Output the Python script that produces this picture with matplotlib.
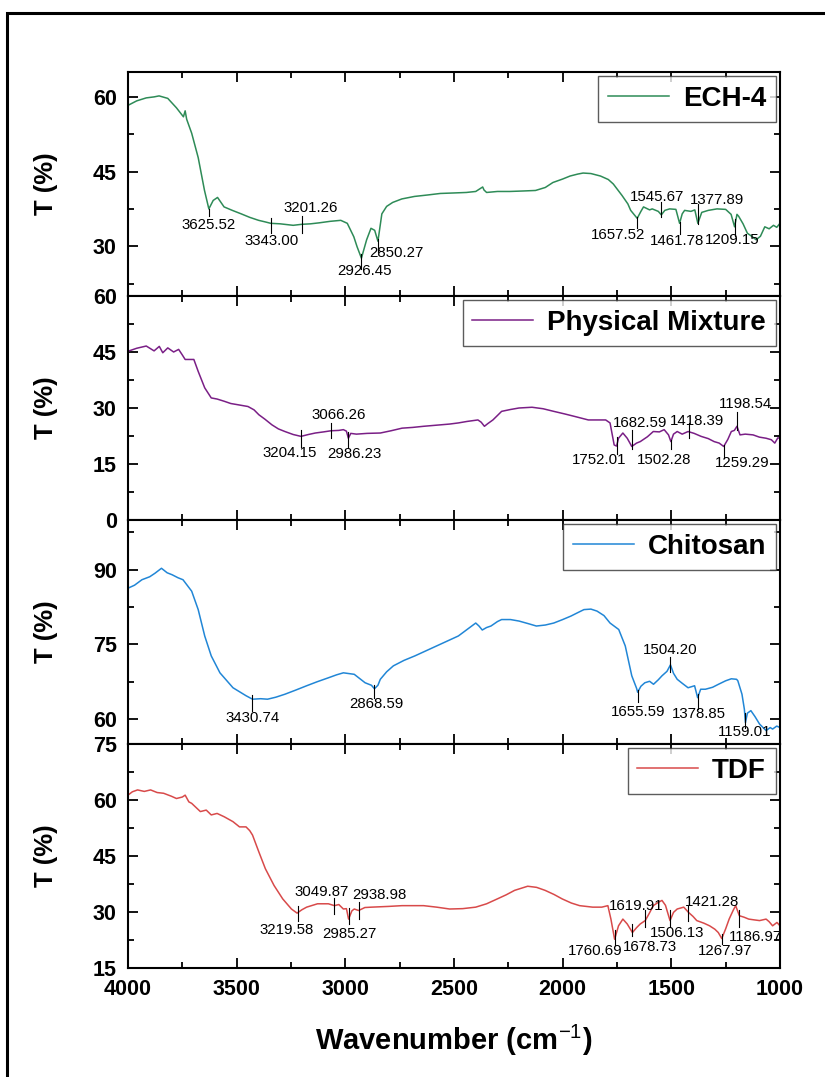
import matplotlib
matplotlib.use("Agg")
import matplotlib.pyplot as plt
from matplotlib.ticker import MultipleLocator, AutoMinorLocator
from matplotlib.patches import Rectangle

plt.rcParams["mathtext.fontset"] = "custom"
plt.rcParams["mathtext.rm"] = "Liberation Sans"
plt.rcParams["mathtext.bf"] = "Liberation Sans:bold"
plt.rcParams["mathtext.it"] = "Liberation Sans:italic"

# ---------------- data ----------------
ech_wn = [4000, 3960, 3916, 3880, 3857, 3817, 3777, 3745, 3737, 3730, 3707, 3677, 3648, 3628, 3608,
          3588, 3558, 3520, 3479, 3440, 3399, 3370, 3343, 3300, 3240, 3201, 3160, 3120, 3070, 3021,
          2991, 2961, 2946, 2926, 2902, 2882, 2865, 2850, 2832, 2810, 2782, 2740, 2682, 2620, 2563,
          2500, 2443, 2400, 2368, 2362, 2350, 2300, 2244, 2180, 2125, 2080, 2045, 2000, 1966, 1930,
          1906, 1870, 1826, 1790, 1767, 1727, 1700, 1687, 1657, 1640, 1628, 1600, 1588, 1560, 1546,
          1530, 1508, 1479, 1462, 1450, 1439, 1410, 1392, 1378, 1360, 1330, 1290, 1250, 1225, 1209,
          1198, 1190, 1170, 1150, 1130, 1110, 1090, 1070, 1050, 1030, 1015, 1000]
ech_t = [58.3, 59.2, 59.8, 60.0, 60.2, 59.7, 57.8, 56.0, 57.2, 55.5, 52.7, 47.8, 41.2, 37.5, 39.2,
         39.8, 37.9, 37.2, 36.5, 35.8, 35.2, 34.9, 34.6, 34.5, 34.2, 34.4, 34.5, 34.7, 35.0, 35.2,
         34.6, 31.9, 29.9, 27.6, 31.3, 33.6, 33.2, 31.0, 36.5, 38.0, 38.8, 39.5, 40.0, 40.3, 40.6,
         40.7, 40.8, 41.0, 41.9, 41.3, 40.8, 41.0, 41.0, 41.1, 41.2, 41.8, 42.8, 43.5, 44.1, 44.5,
         44.7, 44.6, 44.1, 43.4, 42.5, 40.2, 38.5, 37.2, 35.6, 37.0, 37.9, 37.3, 37.5, 37.0, 36.3,
         37.2, 37.5, 37.4, 34.6, 36.5, 37.2, 37.0, 37.3, 34.6, 36.8, 37.2, 37.5, 37.4, 36.4, 33.9,
         36.4, 36.0, 34.5, 32.6, 32.0, 31.3, 32.0, 33.9, 33.5, 34.2, 33.8, 34.6]

pm_wn = [4000, 3960, 3916, 3880, 3856, 3840, 3817, 3790, 3767, 3750, 3737, 3697, 3677, 3647, 3617,
         3590, 3557, 3527, 3497, 3448, 3420, 3398, 3370, 3338, 3308, 3278, 3240, 3204, 3170, 3138,
         3100, 3066, 3030, 3009, 2995, 2986, 2975, 2949, 2900, 2839, 2790, 2739, 2690, 2640, 2580,
         2520, 2480, 2440, 2390, 2375, 2360, 2345, 2321, 2300, 2281, 2240, 2201, 2141, 2090, 2041,
         1990, 1942, 1882, 1840, 1802, 1782, 1763, 1752, 1743, 1723, 1703, 1682, 1660, 1643, 1610,
         1583, 1555, 1533, 1513, 1502, 1490, 1473, 1450, 1423, 1395, 1363, 1330, 1303, 1280, 1259,
         1240, 1224, 1210, 1198, 1184, 1160, 1124, 1095, 1064, 1040, 1024, 1010, 1000]
pm_t = [45.2, 46.0, 46.6, 45.3, 46.5, 44.8, 46.1, 45.0, 45.7, 44.2, 43.0, 43.0, 39.8, 35.4, 32.7,
        32.4, 31.8, 31.2, 30.9, 30.4, 29.5, 28.2, 27.0, 25.5, 24.4, 23.7, 22.9, 22.4, 22.9, 23.3,
        23.6, 23.9, 24.0, 24.2, 23.8, 21.9, 23.2, 23.0, 23.2, 23.3, 23.9, 24.6, 24.8, 25.1, 25.4,
        25.7, 26.0, 26.4, 26.8, 26.2, 25.1, 25.8, 26.8, 28.0, 29.1, 29.6, 30.0, 30.2, 29.8, 29.1,
        28.4, 27.7, 26.8, 26.8, 26.8, 26.0, 20.1, 19.8, 21.9, 23.3, 21.9, 19.7, 20.6, 21.0, 22.3,
        23.7, 23.6, 24.2, 22.8, 21.0, 23.0, 23.7, 23.0, 23.7, 23.2, 22.4, 21.8, 21.0, 20.6, 19.7,
        21.6, 23.7, 24.0, 25.1, 22.8, 23.0, 22.8, 22.2, 21.9, 21.5, 20.6, 22.0, 21.9]

chi_wn = [4000, 3970, 3936, 3900, 3876, 3846, 3820, 3797, 3770, 3747, 3707, 3677, 3647, 3617, 3577,
          3517, 3457, 3427, 3390, 3358, 3320, 3278, 3230, 3178, 3130, 3078, 3040, 3009, 2959, 2909,
          2880, 2866, 2850, 2839, 2810, 2779, 2730, 2680, 2630, 2580, 2530, 2480, 2440, 2400, 2385,
          2370, 2350, 2330, 2300, 2281, 2240, 2201, 2160, 2121, 2080, 2041, 2000, 1962, 1930, 1902,
          1870, 1842, 1810, 1782, 1742, 1712, 1682, 1660, 1655, 1640, 1622, 1600, 1582, 1560, 1543,
          1520, 1504, 1490, 1473, 1450, 1423, 1393, 1379, 1365, 1343, 1310, 1283, 1250, 1224, 1200,
          1194, 1175, 1164, 1159, 1150, 1134, 1115, 1094, 1064, 1045, 1034, 1015, 1000]
chi_t = [86.3, 86.9, 88.0, 88.6, 89.3, 90.3, 89.4, 89.0, 88.4, 88.0, 85.7, 82.0, 76.7, 72.7, 69.3,
         66.3, 64.7, 64.0, 64.1, 64.0, 64.4, 65.0, 65.8, 66.7, 67.5, 68.3, 68.9, 69.3, 69.0, 67.3,
         66.8, 66.1, 66.8, 68.0, 69.5, 70.7, 71.8, 72.7, 73.7, 74.7, 75.7, 76.7, 78.0, 79.3, 78.7,
         77.9, 78.4, 78.7, 79.6, 80.0, 80.0, 79.7, 79.2, 78.7, 78.9, 79.3, 80.0, 80.7, 81.4, 82.0,
         82.1, 81.7, 80.8, 79.3, 78.0, 74.7, 68.7, 66.2, 65.4, 66.6, 67.3, 67.6, 67.0, 67.9, 68.7,
         69.6, 70.9, 69.2, 68.0, 67.2, 66.3, 66.7, 64.3, 66.0, 66.0, 66.4, 67.0, 67.7, 68.1, 68.0,
         67.7, 65.0, 62.0, 59.3, 61.2, 61.7, 60.5, 59.0, 57.7, 58.3, 58.0, 58.6, 58.3]

tdf_wn = [4000, 3980, 3956, 3925, 3896, 3866, 3836, 3800, 3777, 3750, 3737, 3720, 3707, 3667, 3640,
          3617, 3590, 3557, 3517, 3487, 3457, 3440, 3427, 3398, 3368, 3328, 3288, 3248, 3222, 3200,
          3178, 3128, 3078, 3050, 3030, 3009, 2995, 2985, 2970, 2959, 2939, 2910, 2879, 2800, 2739,
          2690, 2640, 2580, 2520, 2460, 2400, 2350, 2301, 2260, 2221, 2161, 2120, 2081, 2040, 2002,
          1960, 1922, 1862, 1820, 1792, 1778, 1761, 1743, 1723, 1703, 1679, 1660, 1643, 1620, 1600,
          1583, 1560, 1543, 1527, 1506, 1490, 1473, 1443, 1421, 1400, 1383, 1350, 1324, 1300, 1284,
          1268, 1250, 1234, 1215, 1204, 1187, 1165, 1144, 1120, 1094, 1064, 1050, 1034, 1014, 1000]
tdf_t = [61.3, 62.2, 62.7, 62.3, 62.7, 62.0, 61.8, 61.0, 60.4, 60.8, 61.3, 59.5, 59.1, 56.9, 57.3,
         56.0, 56.4, 55.5, 54.2, 52.8, 52.8, 51.8, 50.6, 46.1, 41.6, 37.1, 33.5, 30.8, 29.7, 30.6,
         31.3, 32.2, 32.2, 31.7, 32.0, 30.8, 30.9, 28.1, 30.3, 30.8, 30.4, 31.2, 31.3, 31.5, 31.7,
         31.7, 31.7, 31.3, 30.8, 30.9, 31.3, 32.2, 33.5, 34.6, 35.8, 36.9, 36.6, 35.8, 34.7, 33.5,
         32.4, 31.7, 31.3, 31.3, 31.7, 28.1, 22.7, 26.3, 28.1, 26.8, 24.5, 25.8, 26.8, 27.7, 29.8,
         31.7, 32.6, 33.1, 31.8, 27.7, 29.9, 30.8, 31.3, 29.9, 28.8, 27.7, 27.0, 26.3, 25.4, 24.5,
         22.9, 25.5, 28.1, 30.5, 31.7, 29.0, 28.6, 28.1, 27.9, 27.7, 28.1, 27.4, 26.3, 27.2, 26.3]

series_names = ["ECH-4", "Physical Mixture", "Chitosan", "TDF"]
series_wn = [ech_wn, pm_wn, chi_wn, tdf_wn]
series_t = [ech_t, pm_t, chi_t, tdf_t]
series_colors = ["#2e8b57", "#7a1f86", "#2186d6", "#d84a4a"]
y_limits = [(20, 65), (0, 60), (55, 100), (15, 75)]

# peak annotations: label, marker wavenumber, marker y0, marker y1, text x, text y
ech_peaks = [("3625.52", 3625.52, 36.0, 37.5, 3628, 34.3),
             ("3343.00", 3343.00, 32.6, 35.6, 3339, 31.0),
             ("3201.26", 3201.26, 32.6, 36.0, 3160, 37.6),
             ("2926.45", 2926.45, 25.5, 28.5, 2910, 25.0),
             ("2850.27", 2850.27, 28.8, 31.5, 2766, 28.6),
             ("1657.52", 1657.52, 33.7, 35.8, 1745, 32.3),
             ("1545.67", 1545.67, 35.8, 38.8, 1566, 39.8),
             ("1461.78", 1461.78, 32.5, 34.8, 1476, 31.0),
             ("1377.89", 1377.89, 34.5, 38.5, 1289, 39.2),
             ("1209.15", 1209.15, 32.0, 35.5, 1220, 31.3)]
pm_peaks = [("3204.15", 3204.15, 19.5, 24.0, 3258, 17.9),
            ("3066.26", 3066.26, 22.0, 26.0, 3029, 28.0),
            ("2986.23", 2986.23, 19.3, 23.5, 2959, 17.6),
            ("1752.01", 1752.01, 17.8, 22.3, 1832, 16.1),
            ("1682.59", 1682.59, 19.0, 24.0, 1646, 26.0),
            ("1502.28", 1502.28, 19.0, 21.5, 1532, 16.1),
            ("1418.39", 1418.39, 22.0, 26.0, 1383, 26.6),
            ("1259.29", 1259.29, 16.5, 20.0, 1173, 15.2),
            ("1198.54", 1198.54, 24.0, 29.0, 1157, 31.0)]
chi_peaks = [("3430.74", 3430.74, 61.7, 64.8, 3427, 60.3),
             ("2868.59", 2868.59, 64.3, 66.8, 2859, 63.0),
             ("1655.59", 1655.59, 63.5, 65.8, 1652, 61.5),
             ("1504.20", 1504.20, 69.5, 72.5, 1503, 73.8),
             ("1378.85", 1378.85, 62.0, 65.0, 1373, 61.0),
             ("1159.01", 1159.01, 58.2, 61.3, 1163, 57.4)]
tdf_peaks = [("3219.58", 3219.58, 27.5, 31.5, 3268, 25.2),
             ("3049.87", 3049.87, 29.5, 33.8, 3108, 35.3),
             ("2985.27", 2985.27, 26.8, 31.0, 2979, 24.0),
             ("2938.98", 2938.98, 28.0, 32.8, 2843, 34.6),
             ("1760.69", 1760.69, 21.2, 25.2, 1852, 19.6),
             ("1678.73", 1678.73, 23.5, 26.8, 1598, 20.5),
             ("1619.91", 1619.91, 26.0, 30.5, 1662, 31.7),
             ("1506.13", 1506.13, 26.0, 30.5, 1473, 24.4),
             ("1421.28", 1421.28, 27.5, 31.5, 1313, 32.6),
             ("1267.97", 1267.97, 21.4, 24.0, 1254, 19.6),
             ("1186.97", 1186.97, 26.0, 30.5, 1114, 23.2)]
series_peaks = [ech_peaks, pm_peaks, chi_peaks, tdf_peaks]

x_ticks = [4000, 3500, 3000, 2500, 2000, 1500, 1000]
x_label = "Wavenumber (cm$^{-1}$)"
y_label = "T (%)"

# ---------------- drawing ----------------
W, H = 825, 1077
fig = plt.figure(figsize=(W / 100, H / 100), dpi=100)
fig.patch.set_facecolor("white")

bold_font = ["Liberation Sans", "DejaVu Sans"]
note_font = ["Liberation Sans", "DejaVu Sans"]

# outer border
fig.patches.append(Rectangle((7 / W, -0.02), 1.05, 1 - 13 / H + 0.02, transform=fig.transFigure,
                             fill=False, edgecolor="black", linewidth=2.2, zorder=0))

left, right = 128 / W, 780 / W
top_px, bot_px = 72, 968
ph = (bot_px - top_px) / 4.0
axes = []
for i in range(4):
    y_top = top_px + i * ph
    ax = fig.add_axes([left, 1 - (y_top + ph) / H, right - left, ph / H],
                      sharex=axes[0] if axes else None)
    axes.append(ax)

for i, ax in enumerate(axes):
    ax.plot(series_wn[i], series_t[i], color=series_colors[i], linewidth=1.1,
            label=series_names[i])
    ax.set_xlim(4000, 1000)
    ax.set_ylim(*y_limits[i])
    ax.xaxis.set_major_locator(MultipleLocator(500))
    ax.xaxis.set_minor_locator(MultipleLocator(250))
    ax.yaxis.set_major_locator(MultipleLocator(15))
    ax.yaxis.set_minor_locator(AutoMinorLocator(2))
    ax.tick_params(which="both", direction="in", top=True, right=True, width=1.3)
    ax.tick_params(which="major", length=7)
    ax.tick_params(which="minor", length=4)
    ax.tick_params(axis="y", which="major", pad=8)
    for lab in ax.get_yticklabels():
        lab.set_fontfamily(bold_font)
        lab.set_fontweight("bold")
        lab.set_fontsize(15.5)
    for sp in ax.spines.values():
        sp.set_linewidth(1.5)
    if i < 3:
        ax.tick_params(axis="x", labelbottom=False)
    else:
        ax.set_xticks(x_ticks)
        ax.tick_params(axis="x", which="major", pad=8)
        for lab in ax.get_xticklabels():
            lab.set_fontfamily(bold_font)
            lab.set_fontweight("bold")
            lab.set_fontsize(15.5)
    ax.set_ylabel(y_label, fontsize=18.5, fontweight="bold", family=bold_font)
    ax.yaxis.set_label_coords(-0.108, 0.5)

    for (txt, wn, y0, y1, tx, ty) in series_peaks[i]:
        ax.plot([wn, wn], [y0, y1], color="black", linewidth=0.8)
        ax.text(tx, ty, txt, ha="center", va="center", fontsize=10.8,
                family=note_font, color="black")

    leg = ax.legend(loc="upper right", frameon=True, fancybox=False, borderaxespad=0.15,
                    handlelength=2.2, handletextpad=0.5, borderpad=0.35,
                    prop={"family": bold_font, "weight": "bold", "size": 20})
    leg.get_frame().set_edgecolor("#333333")
    leg.get_frame().set_linewidth(1.0)

axes[3].set_xlabel(x_label, fontsize=21, fontweight="bold", family=bold_font, labelpad=16)

fig.savefig("out.png", dpi=100, facecolor="white")
